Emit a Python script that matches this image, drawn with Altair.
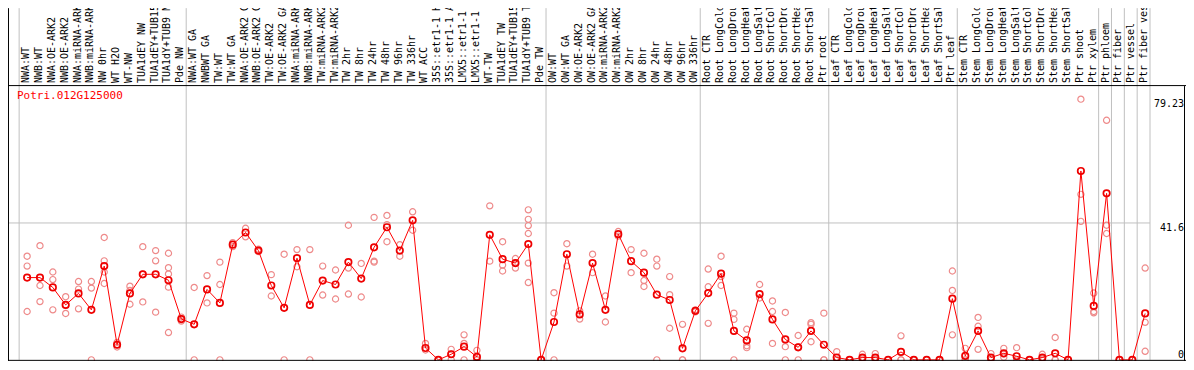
import altair as alt
import pandas as pd

GENE = "Potri.012G125000"

group_sizes = [13, 28, 12, 10, 10, 11, 1, 1, 1, 1]

labels = [
    "NWA:WT", "NWB:WT", "NWA:OE-ARK2", "NWB:OE-ARK2", "NWA:miRNA-ARK2", "NWB:miRNA-ARK2",
    "NW 0hr", "WT H2O", "WT-NW", "TUA1dEY NW", "TUA1dEY+TUB15 NW", "TUA1dY+TUB9 NW", "Pde NW",
    "NWA:WT GA", "NWBWT GA", "TW:WT", "TW:WT GA", "NWA:OE-ARK2 GA", "NWB:OE-ARK2 GA",
    "TW:OE-ARK2", "TW:OE-ARK2 GA", "NWA:miRNA-ARK2 GA", "NWB:miRNA-ARK2 GA", "TW:miRNA-ARK2",
    "TW:miRNA-ARK2 GA", "TW 2hr", "TW 8hr", "TW 24hr", "TW 48hr", "TW 96hr", "TW 336hr",
    "WT ACC", "35S::etr1-1 H2O", "35S::etr1-1 ACC", "LMX5::etr1-1 H2O", "LMX5::etr1-1 ACC",
    "WT-TW", "TUA1dEY TW", "TUA1dEY+TUB15 TW", "TUA1dY+TUB9 TW", "Pde TW",
    "OW:WT", "OW:WT GA", "OW:OE-ARK2", "OW:OE-ARK2 GA", "OW:miRNA-ARK2", "OW:miRNA-ARK2 GA",
    "OW 2hr", "OW 8hr", "OW 24hr", "OW 48hr", "OW 96hr", "OW 336hr",
    "Root CTR", "Root LongCold", "Root LongDrought", "Root LongHeat", "Root LongSalt",
    "Root ShortCold", "Root ShortDrought", "Root ShortHeat", "Root ShortSalt", "Ptr root",
    "Leaf CTR", "Leaf LongCold", "Leaf LongDrought", "Leaf LongHeat", "Leaf LongSalt",
    "Leaf ShortCold", "Leaf ShortDrought", "Leaf ShortHeat", "Leaf ShortSalt", "Ptr leaf",
    "Stem CTR", "Stem LongCold", "Stem LongDrought", "Stem LongHeat", "Stem LongSalt",
    "Stem ShortCold", "Stem ShortDrought", "Stem ShortHeat", "Stem ShortSalt", "Ptr shoot",
    "Ptr xylem", "Ptr phloem", "Ptr fiber", "Ptr vessel", "Ptr fiber vessel",
]

means = [
    25.0, 25.0, 22.0, 16.7, 20.2, 15.2, 28.5, 4.6, 20.2, 26.0, 26.0, 24.2, 12.4,
    10.8, 21.4, 17.3, 35.0, 38.7, 33.2, 22.6, 15.8, 30.9, 16.7, 24.1, 22.9, 29.7,
    24.7, 34.2, 40.3, 33.2, 42.4, 3.6, 0.0, 1.7, 4.0, 0.9, 38.0, 30.6, 29.4, 35.2, 0.0,
    11.5, 32.1, 13.8, 29.4, 15.2, 38.2, 30.0, 26.5, 19.8, 18.2, 3.5, 14.9,
    20.3, 26.2, 8.8, 5.9, 20.0, 12.3, 6.2, 3.8, 8.8, 4.6,
    0.7, 0.0, 0.7, 0.7, 0.0, 2.4, 0.0, 0.0, 0.0, 18.6,
    1.2, 8.8, 0.7, 2.0, 1.1, 0.0, 0.7, 2.0, 0.0, 57.4, 16.4,
    50.6, 0.0, 0.0, 14.1,
]

replicates = [
    [31.5, 28.5, 14.7], [34.7, 22.6, 17.7], [26.7, 24.4, 15.2], [19.2, 16.7, 14.1],
    [23.8, 21.5, 15.5], [23.8, 21.8, 0.0], [37.2, 30.1, 26.7, 23.2], [5.3, 4.6, 3.9],
    [22.4, 21.1, 16.9], [34.4, 26.0, 17.6], [33.2, 30.1, 14.5], [32.4, 28.0, 26.1, 22.1, 8.3],
    [13.0, 12.4, 11.8],
    [22.0, 10.8, 0.0], [25.6, 17.3], [29.7, 22.9, 0.0], [35.6, 34.4], [40.0, 37.4],
    [33.6, 32.9], [25.9, 19.4], [32.1, 0.0], [33.5, 28.3], [33.5, 0.0], [28.5, 19.7],
    [27.3, 18.5], [40.9, 27.9, 20.0], [29.3, 19.1], [43.3, 30.0, 29.7], [43.9, 41.1, 35.9],
    [35.0, 31.5], [45.0, 39.4], [5.0, 3.0], [0.0, 0.0], [3.2, 1.7, 0.0], [7.6, 5.0, 0.0],
    [2.9, 0.0, 0.0], [46.8, 30.0], [35.9, 28.8, 27.0], [30.8, 29.4, 27.9],
    [45.6, 42.7, 40.8, 38.4, 29.4, 23.5], [0.0, 0.0],
    [20.4, 14.2, 0.0], [35.3, 28.5], [14.9, 12.4], [32.1, 26.5], [19.4, 11.5], [39.0, 37.6],
    [33.5, 26.5], [32.4, 24.1, 22.3], [30.6, 28.5, 0.0], [25.3, 19.8, 9.6], [10.8, 0.0, 0.0],
    [15.2, 14.6],
    [27.6, 22.2, 11.1], [31.5, 25.3, 22.6], [14.2, 12.3, 0.0], [9.3, 4.3, 3.7], [22.9, 18.8],
    [17.9, 14.7, 5.0], [14.4, 4.0, 0.0], [7.4, 3.9, 0.0], [11.3, 10.8, 5.5], [14.2, 0.0, 0.0],
    [2.5, 0.0, 0.0], [0.0, 0.0], [1.7, 0.5, 0.0], [1.9, 0.3, 0.0], [0.0, 0.0], [7.3, 0.0, 0.0],
    [0.0, 0.0], [0.0, 0.0], [0.0, 0.0], [27.0, 21.1, 7.6],
    [3.5, 0.0, 0.0], [12.9, 10.2, 3.2], [1.9, 0.3, 0.0], [3.5, 1.7, 0.8], [3.7, 0.0, 0.0],
    [0.0, 0.0], [1.7, 0.4, 0.0], [6.8, 0.0, 0.0], [0.0, 0.0], [79.23, 50.3, 42.1],
    [20.3, 14.7, 14.3],
    [72.8, 40.9, 38.4], [0.0, 0.0], [0.0, 0.0], [27.9, 11.4, 2.6],
]

y_ticks = [79.23, 41.6, 0]
y_max = 83.2

# ---- tables ----
samples = pd.DataFrame({"idx": list(range(len(labels))), "label": labels, "mean": means})
rep_rows = [{"idx": i, "v": v} for i, reps in enumerate(replicates) for v in reps]
reps_df = pd.DataFrame(rep_rows)

starts = []
s = 0
for g in group_sizes:
    starts.append(s)
    s += g
starts.append(s)
bounds = pd.DataFrame({"b": [st - 0.62 for st in starts]})

W, H = 1142, 274
TOP, RIGHT = 78, 36
FONT = "DejaVu Sans Mono"

xs = alt.Scale(domain=[-1.41, starts[-1] - 0.62], nice=False, zero=False)
ys = alt.Scale(domain=[0, y_max], nice=False, zero=False)

X = alt.X("idx:Q", scale=xs, axis=None)

seps = alt.Chart(bounds).mark_rule(color="#c0c0c0", strokeWidth=1).encode(
    x=alt.X("b:Q", scale=xs, axis=None),
    y=alt.value(-TOP), y2=alt.value(H),
)

grid = alt.Chart(pd.DataFrame({"v": [y_ticks[1]]})).mark_rule(color="#c0c0c0", strokeWidth=1).encode(
    y=alt.Y("v:Q", scale=ys, axis=None),
    x=alt.value(0), x2=alt.value(W),
)

rep_pts = alt.Chart(reps_df).mark_point(
    shape="circle", filled=False, color="#ee8a8a", size=38, strokeWidth=1.2, opacity=1
).encode(x=X, y=alt.Y("v:Q", scale=ys, axis=None))

line = alt.Chart(samples).mark_line(color="#ff0000", strokeWidth=1).encode(
    x=X, y=alt.Y("mean:Q", scale=ys, axis=None)
)

mean_pts = alt.Chart(samples).mark_point(
    shape="circle", filled=False, color="#ee0000", size=42, strokeWidth=1.7, opacity=1
).encode(x=X, y=alt.Y("mean:Q", scale=ys, axis=None))

frame_df = pd.DataFrame({"k": [0]})
frame = alt.layer(
    alt.Chart(frame_df).mark_rule(color="black", strokeWidth=1).encode(
        x=alt.value(-1), x2=alt.value(W + RIGHT), y=alt.value(-0.5)),
    alt.Chart(frame_df).mark_rule(color="black", strokeWidth=1).encode(
        x=alt.value(-1), x2=alt.value(W + RIGHT), y=alt.value(H + 0.5)),
    alt.Chart(frame_df).mark_rule(color="black", strokeWidth=1).encode(
        x=alt.value(-0.5), y=alt.value(-TOP), y2=alt.value(H + 1)),
    alt.Chart(frame_df).mark_rule(color="black", strokeWidth=1).encode(
        x=alt.value(W + RIGHT - 1.5), y=alt.value(0), y2=alt.value(H + 1)),
)

col_labels = alt.Chart(samples).mark_text(
    angle=270, align="left", baseline="middle", font=FONT, fontSize=10, color="black", dy=-1
).encode(x=X, y=alt.value(-3), text="label:N")

ylab_df = pd.DataFrame({"v": y_ticks, "t": ["79.23", "41.6", "0"]})
ylab_top = alt.Chart(ylab_df).transform_filter("datum.v > 0").mark_text(
    align="right", baseline="top", font=FONT, fontSize=10, color="black"
).encode(y=alt.Y("v:Q", scale=ys, axis=None), x=alt.value(W + RIGHT - 2), text="t:N")
ylab_bot = alt.Chart(ylab_df).transform_filter("datum.v == 0").mark_text(
    align="right", baseline="bottom", font=FONT, fontSize=10, color="black"
).encode(y=alt.Y("v:Q", scale=ys, axis=None), x=alt.value(W + RIGHT - 2), text="t:N")

title = alt.Chart(pd.DataFrame({"t": [GENE]})).mark_text(
    align="left", baseline="top", font=FONT, fontSize=11, color="#ff0000"
).encode(x=alt.value(8), y=alt.value(4), text="t:N")

chart = alt.layer(
    seps, grid, rep_pts, line, mean_pts, frame, col_labels, ylab_top, ylab_bot, title
).properties(
    width=W, height=H,
    autosize=alt.AutoSizeParams(type="none"),
    padding={"left": 1, "top": TOP, "right": RIGHT, "bottom": 1},
    background="white",
).configure_view(stroke=None)

chart.save("out.html", embed_options={"renderer": "svg", "actions": False})
